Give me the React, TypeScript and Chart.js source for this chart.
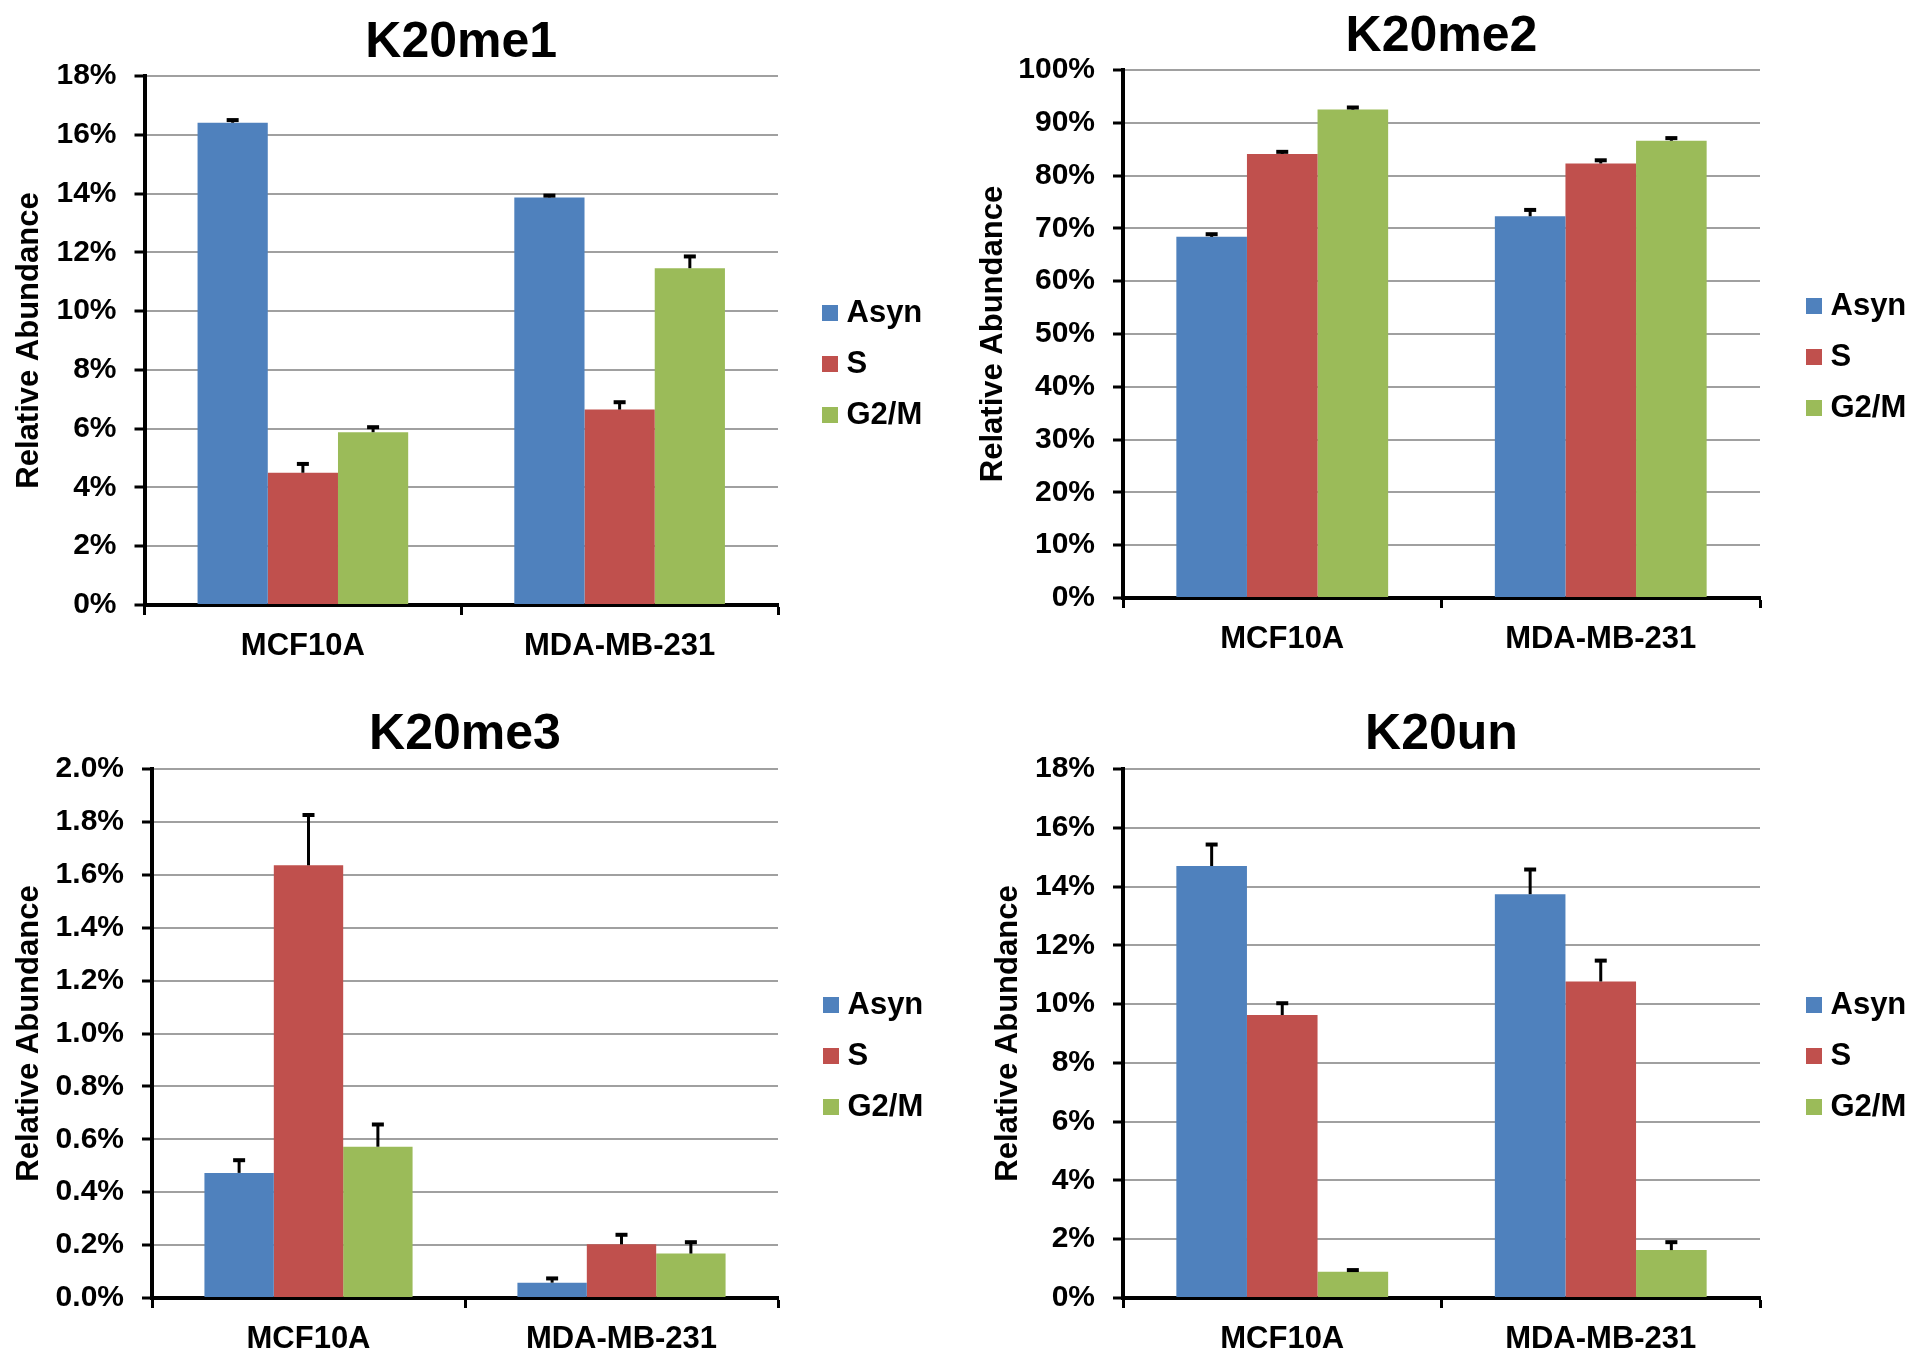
import React, { useEffect, useRef } from 'react';
import { Chart, registerables } from 'chart.js';

Chart.register(...registerables);

// ---------- data ----------
const categories = ['MCF10A', 'MDA-MB-231'];
const seriesNames = ['Asyn', 'S', 'G2/M'];
const seriesColors = ['#4F81BD', '#C0504D', '#9BBB59'];
const yAxisTitle = 'Relative Abundance';

const me1Asyn = [16.41, 13.87];
const me1S = [4.5, 6.65];
const me1G2M = [5.88, 11.46];
const me1AsynErr = [0.09, 0.06];
const me1SErr = [0.3, 0.25];
const me1G2MErr = [0.17, 0.4];
const me1Ticks = { max: 18, step: 2, decimals: 0 };

const me2Asyn = [68.4, 72.3];
const me2S = [84.1, 82.3];
const me2G2M = [92.5, 86.6];
const me2AsynErr = [0.5, 1.2];
const me2SErr = [0.4, 0.6];
const me2G2MErr = [0.4, 0.5];
const me2Ticks = { max: 100, step: 10, decimals: 0 };

const me3Asyn = [0.473, 0.058];
const me3S = [1.636, 0.203];
const me3G2M = [0.572, 0.168];
const me3AsynErr = [0.048, 0.016];
const me3SErr = [0.19, 0.036];
const me3G2MErr = [0.084, 0.043];
const me3Ticks = { max: 2, step: 0.2, decimals: 1 };

const unAsyn = [14.7, 13.74];
const unS = [9.63, 10.77];
const unG2M = [0.89, 1.63];
const unAsynErr = [0.73, 0.84];
const unSErr = [0.4, 0.71];
const unG2MErr = [0.06, 0.27];
const unTicks = { max: 18, step: 2, decimals: 0 };

// ---------- layout (positions / sizes) ----------
const FAMILY = '"Liberation Sans", Arial, Helvetica, sans-serif';
const CW = 960;
const CH = 680;
const LEGEND_FONT = 31;
const LEGEND_SWATCH = 16;
const LEGEND_BOXW = 2;
const LEGEND_PAD = 20;

const panels = [
  { title: 'K20me1', values: [me1Asyn, me1S, me1G2M], errors: [me1AsynErr, me1SErr, me1G2MErr], ticks: me1Ticks,
    x: 0, y: 0, L: 144.5, R: 778, tPadTop: 13, tPadBottom: 3, xAxisH: 75, yTitlePad: 11, dummyW: 31, legendShift: 24 },
  { title: 'K20me2', values: [me2Asyn, me2S, me2G2M], errors: [me2AsynErr, me2SErr, me2G2MErr], ticks: me2Ticks,
    x: 960, y: 0, L: 163, R: 800, tPadTop: 7, tPadBottom: 3, xAxisH: 82, yTitlePad: 14.5, dummyW: 33, legendShift: 17 },
  { title: 'K20me3', values: [me3Asyn, me3S, me3G2M], errors: [me3AsynErr, me3SErr, me3G2MErr], ticks: me3Ticks,
    x: 0, y: 680, L: 152, R: 778, tPadTop: 25, tPadBottom: 4, xAxisH: 62, yTitlePad: 10.5, dummyW: 32, legendShift: 36 },
  { title: 'K20un', values: [unAsyn, unS, unG2M], errors: [unAsynErr, unSErr, unG2MErr], ticks: unTicks,
    x: 960, y: 680, L: 163, R: 800, tPadTop: 25, tPadBottom: 4, xAxisH: 62, yTitlePad: 30, dummyW: 33, legendShift: 36 },
];

const errorBarPlugin = {
  id: 'errorBars',
  afterDatasetsDraw(chart: any) {
    const ctx = chart.ctx;
    const yScale = chart.scales.y;
    ctx.save();
    ctx.strokeStyle = '#000';
    chart.data.datasets.forEach((ds: any, di: number) => {
      const meta = chart.getDatasetMeta(di);
      meta.data.forEach((el: any, i: number) => {
        const v = ds.data[i];
        const e = ds.errors[i];
        const yTop = yScale.getPixelForValue(v + e);
        ctx.lineWidth = 3;
        ctx.beginPath();
        ctx.moveTo(el.x, el.y);
        ctx.lineTo(el.x, yTop);
        ctx.stroke();
        ctx.lineWidth = 4;
        ctx.beginPath();
        ctx.moveTo(el.x - 6, yTop);
        ctx.lineTo(el.x + 6, yTop);
        ctx.stroke();
      });
    });
    ctx.restore();
  },
};

function measureLegendWidth() {
  const c = document.createElement('canvas').getContext('2d') as CanvasRenderingContext2D;
  c.font = `bold ${LEGEND_FONT}px ${FAMILY}`;
  let w = 0;
  seriesNames.forEach((n) => { w = Math.max(w, c.measureText(n).width); });
  return 10 + LEGEND_PAD + LEGEND_BOXW + LEGEND_FONT / 2 + w;
}

function makeSwatch(color: string) {
  const c = document.createElement('canvas');
  c.width = LEGEND_SWATCH;
  c.height = LEGEND_SWATCH;
  const g = c.getContext('2d') as CanvasRenderingContext2D;
  g.fillStyle = color;
  g.fillRect(0, 0, LEGEND_SWATCH, LEGEND_SWATCH);
  return c;
}

function Panel({ spec }: { spec: any }) {
  const ref = useRef<HTMLCanvasElement | null>(null);
  useEffect(() => {
    const legendW = measureLegendWidth();
    const padRight = CW - spec.R - spec.dummyW - legendW;
    const swatches = seriesColors.map(makeSwatch);
    const t = spec.ticks;
    const chart = new Chart(ref.current as HTMLCanvasElement, {
      type: 'bar',
      data: {
        labels: categories,
        datasets: seriesNames.map((n, k) => ({
          label: n,
          data: spec.values[k],
          errors: spec.errors[k],
          backgroundColor: seriesColors[k],
          borderWidth: 0,
          categoryPercentage: 0.665,
          barPercentage: 1,
        })) as any,
      },
      options: {
        responsive: false,
        animation: false,
        devicePixelRatio: 1,
        layout: { padding: { left: 0, top: 0, bottom: 0, right: padRight } },
        plugins: {
          title: {
            display: true,
            text: spec.title,
            fullSize: false,
            color: '#000',
            font: { size: 50, weight: 'bold', family: FAMILY, lineHeight: 1.2 },
            padding: { top: spec.tPadTop, bottom: spec.tPadBottom },
          },
          legend: {
            position: 'right',
            align: 'center',
            fullSize: true,
            title: {
              display: true,
              text: '',
              font: { size: 10, lineHeight: 1 },
              padding: { top: spec.legendShift * 2 - 10, bottom: 0 },
            },
            labels: {
              usePointStyle: true,
              boxWidth: LEGEND_BOXW,
              boxHeight: LEGEND_SWATCH,
              padding: LEGEND_PAD,
              color: '#000',
              font: { size: LEGEND_FONT, weight: 'bold', family: FAMILY },
              generateLabels: (ch: any) =>
                ch.data.datasets.map((ds: any, i: number) => ({
                  text: ds.label,
                  fillStyle: ds.backgroundColor,
                  strokeStyle: ds.backgroundColor,
                  lineWidth: 0,
                  hidden: false,
                  datasetIndex: i,
                  pointStyle: swatches[i],
                  fontColor: '#000',
                })),
            },
          },
          tooltip: { enabled: false },
        },
        scales: {
          x: {
            grid: {
              display: true,
              drawOnChartArea: false,
              drawTicks: true,
              tickLength: 10,
              tickColor: '#000',
              tickWidth: 3,
              offset: true,
            },
            border: { display: true, color: '#000', width: 4 },
            ticks: { color: '#000', padding: 13, maxRotation: 0, font: { size: 31, weight: 'bold', family: FAMILY } },
            afterFit: (s: any) => { s.height = spec.xAxisH; },
          },
          y: {
            min: 0,
            max: t.max,
            ticks: {
              stepSize: t.step,
              color: '#000',
              padding: 18,
              font: { size: 30, weight: 'bold', family: FAMILY },
              callback: (v: any) => `${Number(v).toFixed(t.decimals)}%`,
            },
            grid: { color: '#a0a0a0', lineWidth: 2, tickColor: '#000', tickWidth: 3, tickLength: 10 },
            border: { display: true, color: '#000', width: 4 },
            title: {
              display: true,
              text: yAxisTitle,
              color: '#000',
              font: { size: 31, weight: 'bold', family: FAMILY },
              padding: { top: spec.yTitlePad, bottom: 0 },
            },
            afterFit: (s: any) => { s.width = spec.L; },
          },
          y2: {
            type: 'linear',
            position: 'right',
            display: true,
            grid: { display: false },
            ticks: { display: false },
            border: { display: false },
            afterFit: (s: any) => { s.width = spec.dummyW; },
          },
        },
      } as any,
      plugins: [errorBarPlugin],
    });
    return () => chart.destroy();
  }, []);
  return (
    <canvas
      ref={ref}
      width={CW}
      height={CH}
      style={{ position: 'absolute', left: spec.x, top: spec.y, display: 'block' }}
    />
  );
}

export default function App() {
  return (
    <div style={{ position: 'absolute', left: 0, top: 0, width: 1920, height: 1361, background: '#fff', overflow: 'hidden' }}>
      {panels.map((p) => (
        <Panel key={p.title} spec={p} />
      ))}
    </div>
  );
}
